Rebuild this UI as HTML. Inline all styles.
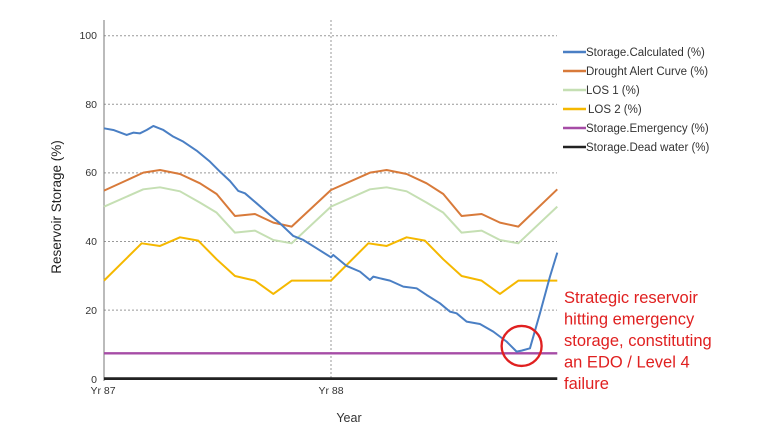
<!DOCTYPE html><html><head><style>body{margin:0;background:#fff}svg{display:block;font-family:"Liberation Sans",sans-serif}</style></head><body>
<svg width="768" height="432" viewBox="0 0 768 432">
<g stroke="#999" stroke-dasharray="2,2" stroke-width="1">
<line x1="104" x2="557" y1="35.7" y2="35.7"/><line x1="104" x2="557" y1="104.3" y2="104.3"/><line x1="104" x2="557" y1="172.9" y2="172.9"/><line x1="104" x2="557" y1="241.5" y2="241.5"/><line x1="104" x2="557" y1="310.1" y2="310.1"/>
<line x1="331" x2="331" y1="20" y2="379"/></g>
<line x1="104" x2="104" y1="20" y2="381" stroke="#777" stroke-width="1"/>
<g font-size="10.5" fill="#333" text-anchor="end"><text x="97" y="39">100</text><text x="97" y="108">80</text><text x="97" y="176">60</text><text x="97" y="245">40</text><text x="97" y="314">20</text><text x="97" y="383">0</text></g>
<g font-size="10.5" fill="#333" text-anchor="middle"><text x="103" y="394">Yr 87</text><text x="331" y="394">Yr 88</text><text x="349" y="422" font-size="12.5">Year</text></g>
<text transform="translate(61,207) rotate(-90)" font-size="13.5" fill="#222" text-anchor="middle">Reservoir Storage (%)</text>
<g transform="translate(40,20) scale(0.3333)" fill="none" stroke-width="6" stroke-linejoin="round">
<polyline style="stroke:#c5dfb3" points="192,560 310,508 360,502 420,514 480,548 530,578 585,638 645,632 700,660 755,670 873,560 990,508 1040,502 1100,514 1160,548 1210,578 1265,638 1325,632 1380,660 1435,670 1552,560"/>
<polyline stroke="#d87a3a" points="192,512 310,458 360,450 420,462 480,490 530,522 585,588 645,582 700,608 755,620 873,510 990,458 1040,450 1100,462 1160,490 1210,522 1265,588 1325,582 1380,608 1435,620 1552,508"/>
<polyline stroke="#f5b800" points="192,782 305,670 360,678 420,652 475,662 530,718 585,768 645,782 700,822 755,782 873,782 985,670 1040,678 1100,652 1155,662 1210,718 1265,768 1325,782 1380,822 1435,782 1552,782"/>
<line x1="192" x2="1552" y1="1000" y2="1000" stroke="#a64ca6" stroke-width="7"/>
<polyline stroke="#4a7fc4" points="192,325 220,330 260,345 280,338 300,340 320,330 340,318 370,330 400,350 430,365 470,392 510,425 540,455 570,483 595,513 615,520 650,550 690,585 720,610 760,648 790,660 830,685 873,712 880,705 920,738 960,755 990,780 1000,770 1020,775 1050,782 1090,800 1130,805 1160,825 1200,850 1230,875 1250,880 1280,905 1320,912 1360,935 1400,965 1430,995 1445,992 1470,985 1500,880 1530,770 1552,698"/>
<line x1="192" x2="1552" y1="1076" y2="1076" stroke="#222" stroke-width="8"/>
<circle cx="1445" cy="978" r="60" stroke="#e02020" stroke-width="7"/>
</g>
<g stroke-width="2.5">
<line x1="563" x2="586" y1="52" y2="52" stroke="#4a7fc4"/><line x1="563" x2="586" y1="71" y2="71" stroke="#d87a3a"/><line x1="563" x2="586" y1="90" y2="90" stroke="#c5dfb3"/><line x1="563" x2="586" y1="109" y2="109" stroke="#f5b800"/><line x1="563" x2="586" y1="128" y2="128" stroke="#a64ca6"/><line x1="563" x2="586" y1="147" y2="147" stroke="#222"/></g>
<g font-size="11.5" fill="#333"><text x="586" y="56">Storage.Calculated (%)</text><text x="586" y="75">Drought Alert Curve (%)</text><text x="586" y="94">LOS 1 (%)</text><text x="588" y="113">LOS 2 (%)</text><text x="586" y="132">Storage.Emergency (%)</text><text x="586" y="151">Storage.Dead water (%)</text></g>
<g font-size="16.5" fill="#e02020"><text x="564" y="303">Strategic reservoir</text><text x="564" y="324.5">hitting emergency</text><text x="564" y="346">storage, constituting</text><text x="564" y="367.5">an EDO / Level 4</text><text x="564" y="389">failure</text></g>
</svg></body></html>
